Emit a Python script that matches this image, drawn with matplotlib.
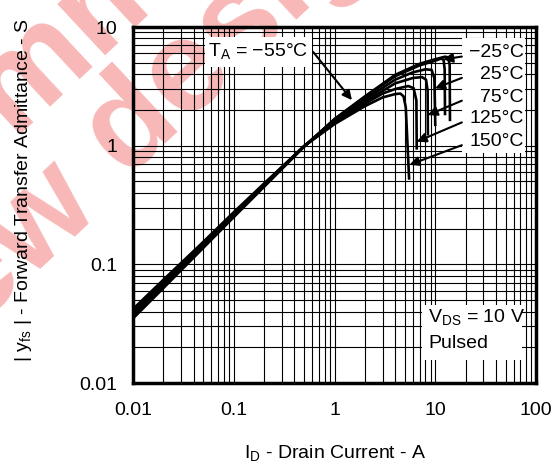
import matplotlib
matplotlib.use("Agg")
import matplotlib.pyplot as plt
from matplotlib.patches import Rectangle
import numpy as np

plt.rcParams['font.family'] = ['Liberation Sans', 'DejaVu Sans']

# Temperatures and transfer curves (|yfs| vs ID)
temps = ['\u221255', '\u221225', '25', '75', '125', '150']

id_m55 = [0.01, 0.02, 0.05, 0.1, 0.2, 0.5, 1, 2, 4, 7, 10, 12.5, 13.4, 13.9, 14.0]
yfs_m55 = [0.035, 0.063, 0.138, 0.25, 0.45, 0.98, 1.68, 2.6, 3.95, 4.9, 5.35, 5.62, 5.55, 4.8, 1.65]

id_m25 = [0.01, 0.02, 0.05, 0.1, 0.2, 0.5, 1, 2, 4, 7, 10, 11.4, 12.1, 12.4, 12.5]
yfs_m25 = [0.036, 0.065, 0.141, 0.253, 0.46, 0.99, 1.66, 2.56, 3.85, 4.75, 5.2, 5.42, 5.3, 4.4, 1.85]

id_25 = [0.01, 0.02, 0.05, 0.1, 0.2, 0.5, 1, 2, 4, 6, 8, 9.2, 9.8, 10.0]
yfs_25 = [0.038, 0.068, 0.146, 0.26, 0.465, 0.99, 1.62, 2.45, 3.6, 4.15, 4.4, 4.35, 3.7, 1.5]

id_75 = [0.01, 0.02, 0.05, 0.1, 0.2, 0.5, 1, 2, 4, 6, 7.4, 8.1, 8.4, 8.45]
yfs_75 = [0.039, 0.07, 0.149, 0.265, 0.47, 0.99, 1.58, 2.35, 3.35, 3.72, 3.78, 3.6, 2.9, 1.25]

id_125 = [0.01, 0.02, 0.05, 0.1, 0.2, 0.5, 1, 2, 3, 4, 5.4, 6.1, 6.5, 6.55]
yfs_125 = [0.041, 0.072, 0.152, 0.27, 0.475, 0.99, 1.55, 2.25, 2.75, 3.0, 3.18, 3.05, 2.4, 0.95]

id_150 = [0.01, 0.02, 0.05, 0.1, 0.2, 0.5, 1, 2, 3, 4, 4.5, 4.85, 5.1, 5.5]
yfs_150 = [0.042, 0.074, 0.155, 0.275, 0.48, 0.99, 1.52, 2.15, 2.55, 2.72, 2.75, 2.6, 2.1, 0.53]

curves = [(id_m55, yfs_m55), (id_m25, yfs_m25), (id_25, yfs_25),
          (id_75, yfs_75), (id_125, yfs_125), (id_150, yfs_150)]

# arrow tips (ID, |yfs|) for the temperature labels
tip_m55 = (1.49, 2.42)
tips_right = [(12.0, 5.33), (9.95, 3.04), (8.42, 1.81), (6.55, 1.08), (5.55, 0.69)]

xticks = [0.01, 0.1, 1, 10, 100]
xtick_labels = ['0.01', '0.1', '1', '10', '100']
yticks = [0.01, 0.1, 1, 10]
ytick_labels = ['0.01', '0.1', '1', '10']

W, H = 559, 468
fig = plt.figure(figsize=(W / 100, H / 100), dpi=100)
fig.patch.set_facecolor('white')

# watermark behind the chart (partly outside the figure, as in the scan)
wm = dict(color='#f8b8b8', fontsize=94, fontweight='bold', rotation=43,
          rotation_mode='anchor', va='baseline', zorder=-5)
ax_x, ax_y = 100 / W, 1 - 205 / H
fig.text(ax_x, ax_y, 'new', ha='right', **wm)
fig.text(ax_x, ax_y, ' design', ha='left', **wm)
bx, by = 14 / W, 1 - 140 / H
fig.text(bx, by, 'Not reco', ha='right', **wm)
fig.text(bx, by, 'mmended for', ha='left', **wm)

ax = fig.add_axes([133 / W, 1 - 383 / H, 403 / W, 356 / H])
ax.set_facecolor('none')
ax.set_xscale('log')
ax.set_yscale('log')
ax.set_xlim(0.01, 100)
ax.set_ylim(0.01, 10)

ax.grid(which='both', color='black', lw=0.8, zorder=1)
ax.set_axisbelow(True)

for xs, ys in curves:
    ax.plot(xs, ys, color='black', lw=1.9, zorder=4, solid_joinstyle='round')

ax.set_xticks(xticks)
ax.set_xticklabels(xtick_labels)
ax.set_yticks(yticks)
ax.set_yticklabels(ytick_labels)
ax.tick_params(which='both', length=0, labelsize=14)
ax.tick_params(axis='x', pad=14)
ax.tick_params(axis='y', pad=11)
for s in ax.spines.values():
    s.set_linewidth(2.5)
    s.set_zorder(6)

# white boxes behind annotations
for (x0, y0, x1, y1) in [(0.179, 0.888, 0.444, 0.972), (0.816, 0.646, 0.973, 0.969),
                         (0.716, 0.065, 0.965, 0.219)]:
    ax.add_patch(Rectangle((x0, y0), x1 - x0, y1 - y0, transform=ax.transAxes,
                           facecolor='white', edgecolor='none', zorder=2))

arrow = dict(arrowstyle='-|>', color='black', lw=1.5, mutation_scale=14, shrinkA=0, shrinkB=0)

ax.text(0.186, 0.93, 'T$_\\mathregular{A}$ = \u221255\u00b0C', transform=ax.transAxes,
        fontsize=14, ha='left', va='center', zorder=5)
ax.annotate('', xy=tip_m55, xycoords='data', xytext=(0.447, 0.93), textcoords='axes fraction',
            arrowprops=arrow, zorder=5)

label_y = [0.927, 0.867, 0.803, 0.742, 0.678]
for t, tip, ly in zip(temps[1:], tips_right, label_y):
    ax.text(0.970, ly, t + '\u00b0C', transform=ax.transAxes, fontsize=14,
            ha='right', va='center', zorder=5)
    ax.annotate('', xy=tip, xycoords='data', xytext=(0.816, ly - 0.01),
                textcoords='axes fraction', arrowprops=arrow, zorder=5)

ax.text(0.732, 0.183, 'V$_\\mathregular{DS}$ = 10 V', transform=ax.transAxes, fontsize=14,
        ha='left', va='center', zorder=5)
ax.text(0.732, 0.11, 'Pulsed', transform=ax.transAxes, fontsize=14,
        ha='left', va='center', zorder=5)

fig.text(335 / W, 1 - 454 / H, 'I$_\\mathregular{D}$ - Drain Current - A',
         ha='center', va='center', fontsize=14)
fig.text(24 / W, 1 - 190 / H, '| y$_\\mathregular{fs}$ | - Forward Transfer Admittance - S',
         ha='center', va='center', rotation=90, fontsize=14)

fig.savefig('out.png', dpi=100)
